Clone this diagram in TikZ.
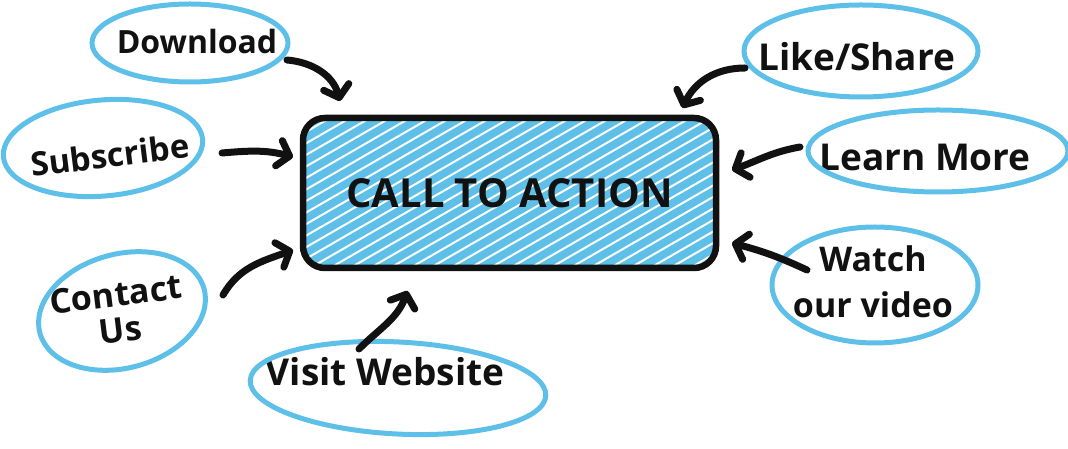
\documentclass[tikz,border=0pt]{standalone}
\usepackage{fontspec}
\setmainfont{Open Sans}
\usetikzlibrary{arrows.meta,calc}
\definecolor{sky}{HTML}{5EC0E8}
\definecolor{ink}{HTML}{111111}
\tikzset{cta/.style={draw=ink, rounded corners=22pt, line width=6.5pt, outer sep=0pt, minimum width=413pt, minimum height=150pt, font=\bfseries\fontsize{40}{44}\selectfont, text=ink},
         lbl/.style={align=center, text=ink, inner sep=0pt},
         ring/.style={draw=sky, line width=5pt},
         arr/.style={-{Straight Barb[length=11pt, width=26pt, round]}, line width=7pt, line cap=round, ink}}

\begin{document}
\begin{tikzpicture}[x=1pt, y=1pt]
\useasboundingbox (0,0) rectangle (1068,449);
% hatched button
\begin{scope}
\clip[rounded corners=22pt] (303,181) rectangle (716,331);
\fill[sky] (303,181) rectangle (716,331);
\foreach \i in {30,50,...,720} \draw[white, line width=2pt] (\i,181) -- ++(260,150);
\end{scope}
\node[cta] (cta) at (509.5,256) {CALL TO ACTION};
\node[lbl, font=\bfseries\fontsize{32}{36}\selectfont] (dl) at (197,407) {Download};
\node[lbl, font=\bfseries\fontsize{33}{38}\selectfont, rotate=7] (sb) at (110,294) {Subscribe};
\node[lbl, font=\bfseries\fontsize{34}{36}\selectfont, rotate=7] (cu) at (118,137) {Contact\\Us};
\node[lbl, font=\bfseries\fontsize{37}{42}\selectfont] (vw) at (385,77) {Visit Website};
\node[lbl, font=\bfseries\fontsize{37}{40}\selectfont] (ls) at (857,392) {Like/Share};
\node[lbl, font=\bfseries\fontsize{37}{41}\selectfont] (lm) at (925,292) {Learn More};
\node[lbl, font=\bfseries\fontsize{34}{46}\selectfont] (wv) at (873,167) {Watch\\our video};
% rings
\draw[ring] (190,406) ellipse [x radius=98, y radius=39];
\draw[ring, rotate around={5:(103,301)}] (103,301) ellipse [x radius=100, y radius=48];
\draw[ring, rotate around={15:(122,138)}] (122,138) ellipse [x radius=85, y radius=57];
\draw[ring, rotate around={-3:(398,61)}] (398,61) ellipse [x radius=148, y radius=46];
\draw[ring] (861,398) ellipse [x radius=117, y radius=46];
\draw[ring] (938,298) ellipse [x radius=130, y radius=41];
\draw[ring] (875,164) ellipse [x radius=103, y radius=58];
% arrows
\draw[arr] ($(dl)+(90,-18)$) to[out=-5, in=105] ($(cta.north west)+(37,17)$);
\draw[arr] ($(sb)+(112,2)$) to[out=5, in=165] ($(cta.west)+(-10,36)$);
\draw[arr] ($(cu)+(105,17)$) to[out=60, in=200] ($(cta.west)+(-10,-57)$);
\draw[arr] ($(vw)+(-26,23)$) to[out=45, in=250] ($(cta.south)+(-102,-23)$);
\draw[arr] ($(ls)+(-112,-11)$) to[out=180, in=65] ($(cta.north)+(173,10)$);
\draw[arr] ($(lm)+(-125,10)$) to[out=190, in=20] ($(cta.east)+(16,23)$);
\draw[arr] ($(wv)+(-66,12)$) to[out=155, in=-15] ($(cta.east)+(16,-50)$);
\end{tikzpicture}
\end{document}
